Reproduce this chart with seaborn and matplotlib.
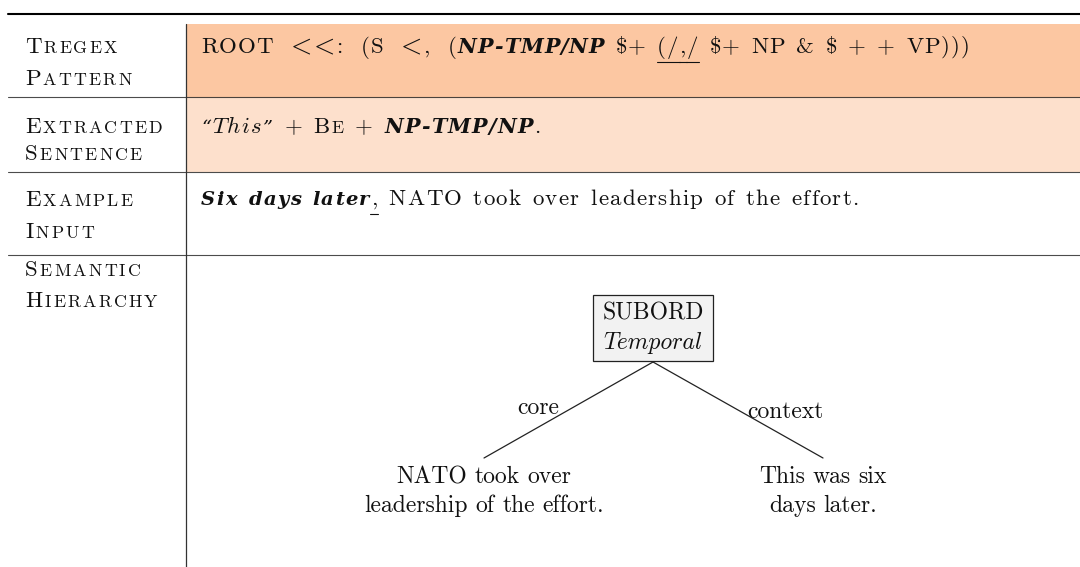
import matplotlib
matplotlib.use("Agg")
import matplotlib.pyplot as plt
import seaborn as sns
from matplotlib.patches import Rectangle
from matplotlib.font_manager import FontProperties

sns.set_theme(style="white")
plt.rcParams['font.family'] = ['cmr10', 'DejaVu Serif']
plt.rcParams['axes.unicode_minus'] = False

# ---- content ----
row_labels = [["Tregex", "Pattern"], ["Extracted", "Sentence"],
              ["Example", "Input"], ["Semantic", "Hierarchy"]]
row_fills = ["#FCC7A2", "#FDE0CC", None, None]

# tregex pattern, in the pieces the cell is set in (relations get wider spaces)
pattern_runs = [
    [("ROOT ", "rm"), ("<<", "op"), (": (S ", "rm"), ("<", "op"), (", (", "rm")],
    [("NP-TMP/NP", "bic")],
    [(" $+ ", "rm"), ("(/,/", "rmu"), (" $+ NP & $ + + VP)))", "rm")],
]
extracted_runs = [("\u201c", "q"), ("This", "it"), ("\u201d", "q"), (" + B", "rm"),
                  ("E", "sc"), (" + ", "rm"), ("NP-TMP/NP", "bic"), (".", "rm")]
example_runs = [("Six days later", "bi"), (",", "rmu"),
                (" NATO took over leadership of the effort.", "rm")]

root_label = ["SUBORD", "Temporal"]
edge_labels = ["core", "context"]
leaf_texts = [["NATO took over", "leadership of the effort."],
              ["This was six", "days later."]]

# ---- layout (pixels) ----
W, H = 1080, 567
FS = 16.5        # table text
TRACK = 1.3      # extra letter spacing in the table cells (px)
LABEL_TRACK = 2.2
FS_T = 17        # tree text
row_edges = [24, 97, 172, 255, 567]
col_x = 186
label_x, text_x = 25, 201
label_base = [(53, 85), (133, 160), (205.5, 238), (276, 307)]
text_base = [53, 133, 205]
pattern_space = [0.75, 0.45, 0.45]

fig = plt.figure(figsize=(W / 100, H / 100), dpi=100)
ax = fig.add_axes([0, 0, 1, 1])
ax.set_xlim(0, W)
ax.set_ylim(H, 0)
ax.axis("off")
renderer = fig.canvas.get_renderer()
INK = "#111111"


def font_for(style, size):
    if style in ("rm", "rmu"):
        return FontProperties(family=["cmr10", "DejaVu Serif"], size=size)
    if style == "sc":
        return FontProperties(family=["cmr10", "DejaVu Serif"], size=size * 0.78)
    if style == "it":
        return FontProperties(family=["cmmi10", "DejaVu Serif"], size=size)
    if style == "op":
        return FontProperties(family=["cmmi10", "DejaVu Serif"], size=size * 1.2)
    if style == "bi":
        return FontProperties(family=["DejaVu Serif"], weight="bold", style="italic",
                              size=size * 0.85)
    if style == "bic":
        return FontProperties(family=["DejaVu Serif"], weight="bold", style="italic",
                              size=size * 0.9)
    return FontProperties(family=["DejaVu Serif"], style="italic", size=size * 0.85)


_cache = {}


def width_of(s, style, size):
    key = (s, style, size)
    if key not in _cache:
        fp = font_for(style, size)
        t = ax.text(0, 0, "|" + s + "|", fontproperties=fp)
        w = t.get_window_extent(renderer).width
        t.remove()
        t = ax.text(0, 0, "||", fontproperties=fp)
        w -= t.get_window_extent(renderer).width
        t.remove()
        _cache[key] = w
    return _cache[key]


def draw_runs(x, y, runs, size, ha="left", track=0.0, space_em=0.333):
    tokens = []
    for text, style in runs:
        for i, part in enumerate(text.split(" ")):
            if i > 0:
                tokens.append((None, style))
            if not part:
                continue
            if track:
                tokens.extend((ch, style) for ch in part)
            else:
                tokens.append((part, style))
    space = size * space_em * 100 / 72
    widths = [space if p is None else width_of(p, s, size) + track for p, s in tokens]
    cur = x - sum(widths) / 2 if ha == "center" else x
    for (p, s), w in zip(tokens, widths):
        if p is not None:
            ax.text(cur, y, p, fontproperties=font_for(s, size), va="baseline",
                    ha="left", color=INK)
            if s == "rmu":
                ax.plot([cur - 0.5, cur + w], [y + 9, y + 9], color=INK, lw=0.8)
        cur += w
    return cur


def small_caps(word):
    return [(word[0], "rm"), (word[1:].upper(), "sc")]


# row backgrounds
for i, fill in enumerate(row_fills):
    if fill:
        ax.add_patch(Rectangle((col_x, row_edges[i]), W - col_x,
                               row_edges[i + 1] - row_edges[i], fc=fill, ec="none"))

# rules
ax.plot([8, W], [13.5, 13.5], color="black", lw=1.5)
for y in row_edges[1:4]:
    ax.plot([8, W], [y, y], color="black", alpha=0.7, lw=0.8)
ax.plot([col_x, col_x], [row_edges[0], H], color="#333333", lw=0.9)

# row labels
for (a, b), (y1, y2) in zip(row_labels, label_base):
    draw_runs(label_x, y1, small_caps(a), FS, track=LABEL_TRACK)
    draw_runs(label_x, y2, small_caps(b), FS, track=LABEL_TRACK)

# row contents
x = text_x
for runs, sp in zip(pattern_runs, pattern_space):
    x = draw_runs(x, text_base[0], runs, FS, track=1.0, space_em=sp)
draw_runs(text_x, text_base[1], extracted_runs, FS, track=TRACK, space_em=0.45)
draw_runs(text_x, text_base[2], example_runs, FS, track=TRACK, space_em=0.45)

# semantic hierarchy tree
root = (653, 295, 361)
leaves = [(484, 458), (823, 458)]
ax.add_patch(Rectangle((593, root[1]), 120, root[2] - root[1], fc="#F2F2F2",
                       ec="#222222", lw=0.9))
draw_runs(root[0], 320, [(root_label[0], "rm")], FS_T, ha="center")
draw_runs(root[0], 349, [(root_label[1], "it")], FS_T, ha="center")
for lx, ly in leaves:
    ax.plot([root[0], lx], [root[2] + 1, ly], color="#222222", lw=0.9)
draw_runs(538, 414, [(edge_labels[0], "rm")], FS_T, ha="center")
draw_runs(785, 418, [(edge_labels[1], "rm")], FS_T, ha="center")
for (lx, ly), lines in zip(leaves, leaf_texts):
    draw_runs(lx, 483, [(lines[0], "rm")], FS_T, ha="center")
    draw_runs(lx, 512, [(lines[1], "rm")], FS_T, ha="center")

fig.savefig("out.png", dpi=100, facecolor="white")
